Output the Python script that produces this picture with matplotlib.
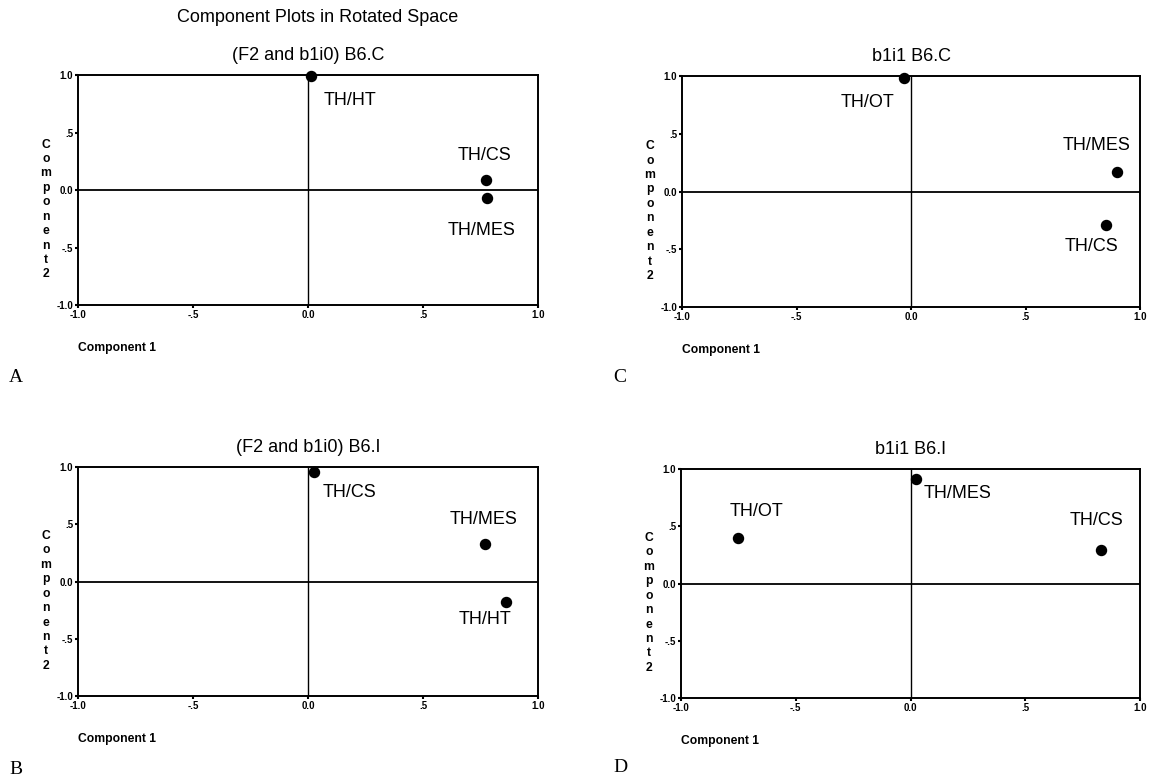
import matplotlib
matplotlib.use("Agg")
import matplotlib.pyplot as plt

# *** Data ***#
suptitle = "Component Plots in Rotated Space"
panel_letters = ["A", "C", "B", "D"]
panel_titles = ["(F2 and b1i0) B6.C", "b1i1 B6.C", "(F2 and b1i0) B6.I", "b1i1 B6.I"]

names_a = ["TH/HT", "TH/CS", "TH/MES"]
comp1_a = [0.013, 0.775, 0.78]
comp2_a = [0.99, 0.087, -0.067]

names_c = ["TH/OT", "TH/MES", "TH/CS"]
comp1_c = [-0.029, 0.90, 0.85]
comp2_c = [0.98, 0.17, -0.29]

names_b = ["TH/CS", "TH/MES", "TH/HT"]
comp1_b = [0.028, 0.77, 0.86]
comp2_b = [0.957, 0.325, -0.18]

names_d = ["TH/OT", "TH/MES", "TH/CS"]
comp1_d = [-0.752, 0.025, 0.83]
comp2_d = [0.40, 0.915, 0.29]

tick_values = [-1.0, -0.5, 0.0, 0.5, 1.0]
tick_labels = ["-1.0", "-.5", "0.0", ".5", "1.0"]

# *** Layout (pixels, label anchors in data units) ***#
W, H = 1151, 778
axes_px = [(78, 75, 538, 305), (682, 76, 1140, 307),
           (78, 467, 538, 696), (681, 469, 1140, 698)]
label_anchor = [
    [(0.067, 0.78, "left"), (0.767, 0.30, "center"), (0.755, -0.35, "center")],
    [(-0.189, 0.77, "center"), (0.81, 0.395, "center"), (0.79, -0.48, "center")],
    [(0.064, 0.78, "left"), (0.765, 0.54, "center"), (0.77, -0.335, "center")],
    [(-0.67, 0.63, "center"), (0.057, 0.79, "left"), (0.81, 0.55, "center")],
]
letter_px = [(16, 378), (620, 378), (16, 770), (620, 768)]

plt.rcParams["font.family"] = ["Liberation Sans", "DejaVu Sans"]

fig = plt.figure(figsize=(W / 100, H / 100), dpi=100)
fig.patch.set_facecolor("white")

panels = [(names_a, comp1_a, comp2_a), (names_c, comp1_c, comp2_c),
          (names_b, comp1_b, comp2_b), (names_d, comp1_d, comp2_d)]

for i, (names, xs, ys) in enumerate(panels):
    x0, y0, x1, y1 = axes_px[i]
    ax = fig.add_axes([x0 / W, 1 - y1 / H, (x1 - x0) / W, (y1 - y0) / H])
    ax.set_xlim(-1, 1)
    ax.set_ylim(-1, 1)
    ax.axhline(0, color="black", lw=1.3, zorder=1)
    ax.axvline(0, color="black", lw=1.0, zorder=1)
    ax.scatter(xs, ys, s=52, color="black", zorder=3, clip_on=False)
    for name, (lx, ly, ha) in zip(names, label_anchor[i]):
        ax.text(lx, ly, name, ha=ha, va="center", fontsize=13)
    ax.set_xticks(tick_values)
    ax.set_xticklabels(tick_labels)
    ax.set_yticks(tick_values)
    ax.set_yticklabels(tick_labels)
    ax.tick_params(direction="out", length=2, width=1.5, pad=1.5,
                   labelsize=7)
    for lab in ax.get_xticklabels() + ax.get_yticklabels():
        lab.set_fontweight("bold")
    for sp in ax.spines.values():
        sp.set_linewidth(1.4)
    ax.set_title(panel_titles[i], fontsize=13, pad=10.5)

    # axis captions: "Component 1" under left corner, stacked "Component2"
    fig.text(x0 / W, 1 - (y1 + 43) / H, "Component 1", ha="left",
             va="center", fontsize=8.7, fontweight="bold")
    fig.text((x0 - 32) / W, 1 - (y0 + 0.585 * (y1 - y0)) / H,
             "\n".join("Component2"), ha="center", va="center",
             fontsize=8.7, fontweight="bold", linespacing=1.27)

    lx, ly = letter_px[i]
    fig.text(lx / W, 1 - ly / H, panel_letters[i], ha="center", va="center",
             fontsize=14, family=["Liberation Serif", "DejaVu Serif"])

x0, y0, x1, y1 = axes_px[0]
fig.text((x0 + 0.52 * (x1 - x0)) / W, 1 - 18 / H, suptitle, ha="center",
         va="center", fontsize=13)

plt.savefig("out.png", dpi=100)
